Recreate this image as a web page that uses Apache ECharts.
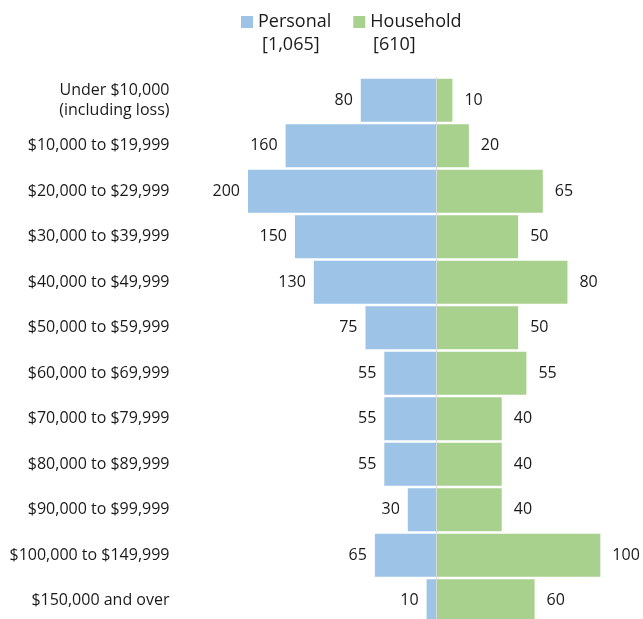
<!DOCTYPE html>
<html>
<head>
<meta charset="utf-8">
<script src="https://cdn.jsdelivr.net/npm/echarts@6/dist/echarts.min.js"></script>
<style>
  html, body { margin: 0; padding: 0; background: #fff; }
  #chart { width: 643px; height: 619px; }
</style>
</head>
<body>
<div id="chart"></div>
<script>
// Income brackets, top to bottom
const categories = [
  'Under $10,000\n(including loss)',
  '$10,000 to $19,999',
  '$20,000 to $29,999',
  '$30,000 to $39,999',
  '$40,000 to $49,999',
  '$50,000 to $59,999',
  '$60,000 to $69,999',
  '$70,000 to $79,999',
  '$80,000 to $89,999',
  '$90,000 to $99,999',
  '$100,000 to $149,999',
  '$150,000 and over'
];
const personal = [80, 160, 200, 150, 130, 75, 55, 55, 55, 30, 65, 10];
const household = [10, 20, 65, 50, 80, 50, 55, 40, 40, 40, 100, 60];
const seriesNames = ['Personal', 'Household'];

const BLUE = '#9dc3e6';
const GREEN = '#a9d18e';
const TEXT = '#1a1a1a';
const FONT = '"Open Sans", "DejaVu Sans", sans-serif';

const sum = arr => arr.reduce((a, b) => a + b, 0);
const fmt = n => n.toLocaleString('en-US');

const chart = echarts.init(document.getElementById('chart'), null, { renderer: 'canvas' });

// Both halves share the same band layout; the plot runs slightly past the bottom edge
const PLOT_TOP = 77.5;
const PLOT_HEIGHT = 546;

chart.setOption({
  animation: false,
  textStyle: { fontFamily: FONT },
  legend: {
    data: seriesNames,
    left: 236,
    top: 8,
    itemWidth: 12,
    itemHeight: 12,
    itemGap: 22,
    icon: 'rect',
    textStyle: { fontSize: 18, color: TEXT, fontFamily: FONT }
  },
  graphic: [
    { type: 'text', left: 262, top: 36,
      style: { text: '[' + fmt(sum(personal)) + ']', fill: TEXT, font: '18px ' + FONT } },
    { type: 'text', left: 373, top: 36,
      style: { text: '[' + fmt(sum(household)) + ']', fill: TEXT, font: '18px ' + FONT } }
  ],
  grid: [
    { left: 177.5, width: 258.5, top: PLOT_TOP, height: PLOT_HEIGHT, outerBoundsMode: 'none', containLabel: false },
    { left: 436, width: 197.2, top: PLOT_TOP, height: PLOT_HEIGHT, outerBoundsMode: 'none', containLabel: false }
  ],
  xAxis: [
    { gridIndex: 0, type: 'value', inverse: true, min: 0, max: 275, show: false },
    { gridIndex: 1, type: 'value', min: 0, max: 120, show: false }
  ],
  yAxis: [
    {
      gridIndex: 0, type: 'category', inverse: true, data: categories,
      position: 'left',
      axisLine: { show: false }, axisTick: { show: false },
      axisLabel: {
        margin: 8, fontSize: 16, lineHeight: 20, color: TEXT, align: 'right',
        fontFamily: FONT
      }
    },
    {
      gridIndex: 1, type: 'category', inverse: true, data: categories,
      position: 'left', z: 5,
      axisLine: { show: true, lineStyle: { color: '#d9d9d9', width: 1 } },
      axisTick: { show: false }, axisLabel: { show: false }
    }
  ],
  series: [
    {
      name: seriesNames[0], type: 'bar', xAxisIndex: 0, yAxisIndex: 0,
      data: personal, barCategoryGap: '5.5%',
      itemStyle: { color: BLUE },
      label: { show: true, position: 'left', distance: 8, fontSize: 16, color: TEXT, fontFamily: FONT }
    },
    {
      name: seriesNames[1], type: 'bar', xAxisIndex: 1, yAxisIndex: 1,
      data: household, barCategoryGap: '5.5%',
      itemStyle: { color: GREEN },
      label: { show: true, position: 'right', distance: 12, fontSize: 16, color: TEXT, fontFamily: FONT }
    }
  ]
});
</script>
</body>
</html>
